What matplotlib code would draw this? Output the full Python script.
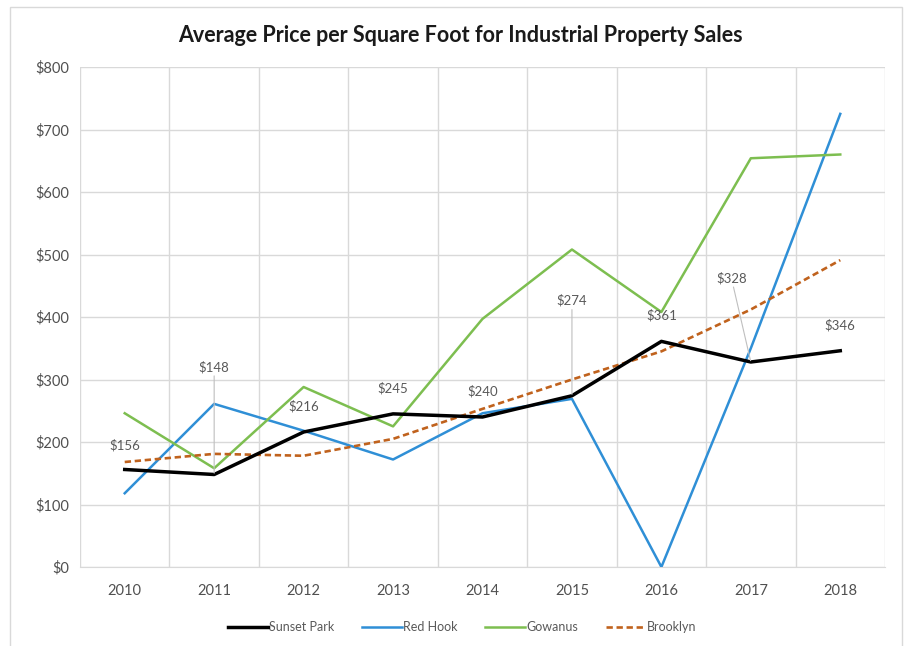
import matplotlib
matplotlib.use('Agg')
import matplotlib.pyplot as plt
from matplotlib.patches import Rectangle

# data
years = ['2010', '2011', '2012', '2013', '2014', '2015', '2016', '2017', '2018']
sunset_park = [156, 148, 216, 245, 240, 274, 361, 328, 346]
red_hook = [118, 261, 218, 172, 246, 269, 0, 350, 725]
gowanus = [246, 158, 288, 225, 397, 508, 408, 654, 660]
brooklyn = [168, 181, 178, 205, 253, 300, 345, 412, 491]
y_ticks = [0, 100, 200, 300, 400, 500, 600, 700, 800]

# label offsets for the Sunset Park values (points)
label_offsets = [(0, 13), (0, 73), (0, 14), (0, 14), (0, 14), (0, 64), (0, 14), (-14, 56), (0, 14)]
leader = [False, True, False, False, False, True, False, True, False]

plt.rcParams['font.family'] = ['Lato', 'DejaVu Sans']
grey = '#595959'

fig = plt.figure(figsize=(9.07, 6.46), dpi=100)
ax = fig.add_axes([80 / 907, 1 - 567 / 646, 805 / 907, 500 / 646])

x = list(range(len(years)))
ax.plot(x, sunset_park, color='black', lw=2.5, label='Sunset Park', zorder=4)
ax.plot(x, red_hook, color='#2F8FD6', lw=1.8, label='Red Hook', zorder=3)
ax.plot(x, gowanus, color='#7DBE50', lw=1.8, label='Gowanus', zorder=3)
ax.plot(x, brooklyn, color='#C0621D', lw=1.9, ls=(0, (2.4, 1.4)), label='Brooklyn', zorder=3)

for i, v in enumerate(sunset_park):
    dx, dy = label_offsets[i]
    props = dict(arrowstyle='-', color='#BFBFBF', lw=0.8, shrinkA=0, shrinkB=1) if leader[i] else None
    ax.annotate(f'${v}', (i, v), xytext=(dx, dy), textcoords='offset points',
                ha='center', va='bottom', fontsize=9.5, color=grey, arrowprops=props, zorder=5)

ax.set_xlim(-0.5, len(years) - 0.5)
ax.set_ylim(0, 800)
ax.set_xticks(x)
ax.set_xticklabels(years)
ax.set_yticks(y_ticks)
ax.set_yticklabels([f'${t}' for t in y_ticks])
ax.set_xticks([i + 0.5 for i in range(-1, len(years))], minor=True)
ax.grid(True, axis='y', color='#D9D9D9', lw=1)
ax.grid(True, axis='x', which='minor', color='#D9D9D9', lw=1)
ax.tick_params(axis='both', which='both', length=0, colors='#505050', labelsize=10.5)
ax.tick_params(axis='x', pad=12)
ax.tick_params(axis='y', pad=8)
for s in ['top', 'right', 'left']:
    ax.spines[s].set_visible(False)
ax.spines['bottom'].set_color('#D9D9D9')
ax.set_axisbelow(True)

fig.text(460 / 907, 1 - 35 / 646, 'Average Price per Square Foot for Industrial Property Sales',
         ha='center', va='center', fontsize=15.5, fontweight='bold', color='#1A1A1A')

fig.legend(loc='center', bbox_to_anchor=(462 / 907, 1 - 627 / 646), ncol=4, frameon=False,
           fontsize=9, handlelength=3.2, handletextpad=0.1, columnspacing=2.2, labelcolor=grey)

fig.add_artist(Rectangle((10 / 907, -0.01), 892 / 907, 1 - 7 / 646 + 0.01, transform=fig.transFigure,
                         fill=False, edgecolor='#D9D9D9', lw=1))

fig.savefig('out.png', dpi=100)
